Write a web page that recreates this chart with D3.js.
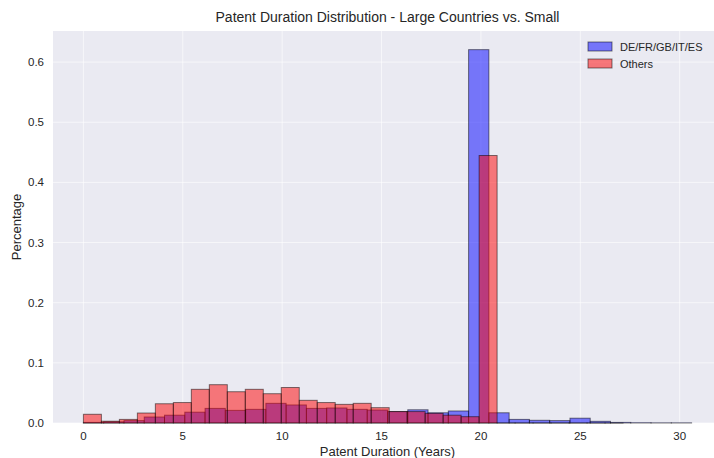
<!DOCTYPE html>
<html>
<head>
<meta charset="utf-8">
<script src="https://cdn.jsdelivr.net/npm/d3@7"></script>
<style>
  body { margin: 0; background: #fff; }
  svg { display: block; font-family: "Liberation Sans", Arial, sans-serif; }
</style>
</head>
<body>
<svg id="chart" width="714" height="458"></svg>
<script>
// ---- data ----
const seriesNames = ["DE/FR/GB/IT/ES", "Others"];
const bigBinStart = 0, bigBinWidth = 1.02;     // years
const smallBinStart = 0, smallBinWidth = 0.905; // years
const bigValues = [0.001, 0.002, 0.004, 0.010, 0.013, 0.018, 0.0243, 0.021, 0.0227, 0.0327,
                   0.030, 0.0243, 0.025, 0.0227, 0.0216, 0.019, 0.022, 0.017, 0.020, 0.6207,
                   0.017, 0.006, 0.0045, 0.004, 0.008, 0.0028, 0.001, 0.0005, 0.0003, 0.0003];
const smallValues = [0.0145, 0.003, 0.006, 0.0166, 0.032, 0.034, 0.056, 0.0637, 0.052, 0.056,
                     0.0487, 0.059, 0.0377, 0.034, 0.031, 0.0327, 0.0255, 0.019, 0.019, 0.016,
                     0.013, 0.0105, 0.4447, 0, 0, 0, 0, 0, 0, 0];
const xTicks = [0, 5, 10, 15, 20, 25, 30];
const yTicks = [0.0, 0.1, 0.2, 0.3, 0.4, 0.5, 0.6];
const title = "Patent Duration Distribution - Large Countries vs. Small";
const xLabel = "Patent Duration (Years)";
const yLabel = "Percentage";

// ---- layout ----
const svg = d3.select("#chart");
const L = 53, R = 722, T = 31, B = 423;
const x = d3.scaleLinear().domain([-1.53, 32.13]).range([L, R]);
const y = d3.scaleLinear().domain([0, 0.6517]).range([B, T]);

svg.append("rect").attr("x", L).attr("y", T).attr("width", R - L).attr("height", B - T)
  .attr("fill", "#eaeaf2");

// grid
const g = svg.append("g").attr("stroke", "#fff").attr("stroke-opacity", 0.6).attr("stroke-width", 1);
g.selectAll(".gx").data(xTicks).join("line")
  .attr("x1", d => x(d)).attr("x2", d => x(d)).attr("y1", T).attr("y2", B);
g.selectAll(".gy").data(yTicks).join("line")
  .attr("x1", L).attr("x2", R).attr("y1", d => y(d)).attr("y2", d => y(d));

function bins(values, start, width) {
  return values.map((v, i) => ({ x0: start + i * width, x1: start + (i + 1) * width, v }));
}
const series = [
  { name: seriesNames[0], data: bins(bigValues, bigBinStart, bigBinWidth), color: "blue" },
  { name: seriesNames[1], data: bins(smallValues, smallBinStart, smallBinWidth), color: "red" }
];

series.forEach(s => {
  svg.append("g").selectAll("rect").data(s.data).join("rect")
    .attr("x", d => x(d.x0)).attr("width", d => x(d.x1) - x(d.x0))
    .attr("y", d => y(d.v)).attr("height", d => Math.max(0.01, y(0) - y(d.v)))
    .attr("fill", s.color).attr("fill-opacity", 0.5)
    .attr("stroke", "rgba(0,0,0,0.5)").attr("stroke-width", 1);
});

// axes labels (ticks)
const axisColor = "#262626";
svg.append("g").selectAll("text").data(xTicks).join("text")
  .attr("x", d => x(d)).attr("y", 440).attr("text-anchor", "middle")
  .attr("font-size", 11.5).attr("fill", axisColor).text(d => d);
svg.append("g").selectAll("text").data(yTicks).join("text")
  .attr("x", 44).attr("y", d => y(d) + 4).attr("text-anchor", "end")
  .attr("font-size", 11.5).attr("fill", axisColor).text(d => d.toFixed(1));

svg.append("text").attr("x", (L + R) / 2).attr("y", 456).attr("text-anchor", "middle")
  .attr("font-size", 13).attr("fill", axisColor).text(xLabel);
svg.append("text").attr("transform", `translate(21,${(T + B) / 2}) rotate(-90)`)
  .attr("text-anchor", "middle").attr("font-size", 13).attr("fill", axisColor).text(yLabel);
svg.append("text").attr("x", (L + R) / 2).attr("y", 22).attr("text-anchor", "middle")
  .attr("font-size", 14).attr("fill", axisColor).text(title);

// legend
const leg = svg.append("g");
series.forEach((s, i) => {
  const yy = 42 + i * 17;
  leg.append("rect").attr("x", 588).attr("y", yy).attr("width", 24).attr("height", 9)
    .attr("fill", s.color).attr("fill-opacity", 0.5)
    .attr("stroke", "rgba(0,0,0,0.5)").attr("stroke-width", 1);
  leg.append("text").attr("x", 620).attr("y", yy + 8.5).attr("font-size", 11)
    .attr("fill", axisColor).text(s.name);
});
</script>
</body>
</html>
